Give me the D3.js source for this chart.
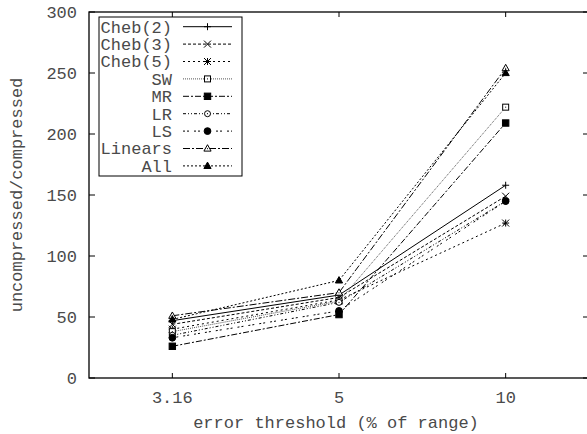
<!DOCTYPE html>
<html>
<head>
<meta charset="utf-8">
<script src="https://cdn.jsdelivr.net/npm/d3@7"></script>
<style>
  html, body { margin: 0; padding: 0; background: #fff; }
  svg text { font-family: "Liberation Mono", "DejaVu Sans Mono", monospace; font-size: 17px; fill: #4a4a4a; }
</style>
</head>
<body>
<svg id="chart" width="587" height="434"></svg>
<script>
// Error thresholds (categorical x positions)
const thresholds = ["3.16", "5", "10"];
const yTicks = [0, 50, 100, 150, 200, 250, 300];

// Compression ratio per method, one value per threshold
const cheb2   = [47, 68, 158];
const cheb3   = [44, 66, 149];
const cheb5   = [40, 64, 127];
const sw      = [38, 63, 222];
const mr      = [26, 52, 209];
const lr      = [35, 62, 145];
const ls      = [33, 55, 145];
const linears = [51, 70, 254];
const all     = [48, 80, 250];

const seriesNames = ["Cheb(2)", "Cheb(3)", "Cheb(5)", "SW", "MR", "LR", "LS", "Linears", "All"];
const seriesValues = [cheb2, cheb3, cheb5, sw, mr, lr, ls, linears, all];

// Drawing styles per series
const styles = [
  { dash: null,              marker: "plus",     stroke: "#000" },
  { dash: "3,2",             marker: "cross",    stroke: "#000" },
  { dash: "2,3",             marker: "star",     stroke: "#000" },
  { dash: "1,1",             marker: "squareO",  stroke: "#555" },
  { dash: "6,2,2,2",         marker: "squareF",  stroke: "#000" },
  { dash: "3,2,1,2,1,2",     marker: "circleO",  stroke: "#000" },
  { dash: "2,2,2,5",         marker: "circleF",  stroke: "#000" },
  { dash: "7,2,2,2",         marker: "triO",     stroke: "#000" },
  { dash: "2,2",             marker: "triF",     stroke: "#000" }
];

const svg = d3.select("#chart");
const plotL = 89, plotR = 589, plotT = 12, plotB = 378;

const x = d3.scaleLinear().domain([-0.5, thresholds.length - 0.5]).range([plotL, plotR]);
const y = d3.scaleLinear().domain([0, 300]).range([plotB, plotT]);

// Frame
svg.append("rect")
  .attr("x", plotL).attr("y", plotT)
  .attr("width", plotR - plotL).attr("height", plotB - plotT)
  .attr("fill", "none").attr("stroke", "#000").attr("stroke-width", 1.3);

// Inward ticks on all four sides
const tickLen = 6;
const tg = svg.append("g").attr("stroke", "#000").attr("stroke-width", 1);
yTicks.forEach(v => {
  tg.append("line").attr("x1", plotL).attr("x2", plotL + tickLen).attr("y1", y(v)).attr("y2", y(v));
  tg.append("line").attr("x1", plotR).attr("x2", plotR - tickLen).attr("y1", y(v)).attr("y2", y(v));
});
thresholds.forEach((t, i) => {
  tg.append("line").attr("x1", x(i)).attr("x2", x(i)).attr("y1", plotB).attr("y2", plotB - tickLen + 1);
  tg.append("line").attr("x1", x(i)).attr("x2", x(i)).attr("y1", plotT).attr("y2", plotT + tickLen - 1);
});

// Tick labels
svg.append("g").selectAll("text").data(yTicks).join("text")
  .attr("x", 77).attr("y", d => y(d)).attr("dy", "0.35em")
  .attr("text-anchor", "end").text(d => d);
svg.append("g").selectAll("text").data(thresholds).join("text")
  .attr("x", (d, i) => x(i)).attr("y", 403)
  .attr("text-anchor", "middle").text(d => d);

// Axis titles
svg.append("text").attr("x", 336).attr("y", 428)
  .attr("text-anchor", "middle").text("error threshold (% of range)");
svg.append("text")
  .attr("transform", `translate(22,${(plotT + plotB) / 2}) rotate(-90)`)
  .attr("text-anchor", "middle").text("uncompressed/compressed");

// Marker drawing
function drawMarker(g, type, cx, cy) {
  const s = 3.5;
  const p = g.append("g").attr("transform", `translate(${cx},${cy})`).attr("stroke", "#000").attr("stroke-width", 1);
  switch (type) {
    case "plus":
      p.append("path").attr("d", `M${-s},0H${s}M0,${-s}V${s}`);
      break;
    case "cross":
      p.append("path").attr("d", `M${-s},${-s}L${s},${s}M${-s},${s}L${s},${-s}`);
      break;
    case "star":
      p.append("path").attr("d", `M${-s},0H${s}M0,${-s}V${s}M${-s},${-s}L${s},${s}M${-s},${s}L${s},${-s}`);
      break;
    case "squareO":
      p.append("rect").attr("x", -3).attr("y", -3).attr("width", 6).attr("height", 6).attr("fill", "#fff");
      p.append("rect").attr("x", -0.5).attr("y", -0.5).attr("width", 1).attr("height", 1).attr("fill", "#000").attr("stroke", "none");
      break;
    case "squareF":
      p.append("rect").attr("x", -3.2).attr("y", -3.2).attr("width", 6.4).attr("height", 6.4).attr("fill", "#000");
      break;
    case "circleO":
      p.append("circle").attr("r", 3).attr("fill", "#fff");
      p.append("circle").attr("r", 0.6).attr("fill", "#000").attr("stroke", "none");
      break;
    case "circleF":
      p.append("circle").attr("r", 3.4).attr("fill", "#000");
      break;
    case "triO":
      p.append("path").attr("d", "M0,-3.8L3.6,2.6H-3.6Z").attr("fill", "#fff");
      p.append("rect").attr("x", -0.5).attr("y", -0.3).attr("width", 1).attr("height", 1).attr("fill", "#000").attr("stroke", "none");
      break;
    case "triF":
      p.append("path").attr("d", "M0,-3.8L3.6,2.6H-3.6Z").attr("fill", "#000");
      break;
  }
}

// Series lines and markers
const line = d3.line().x((d, i) => x(i)).y(d => y(d));
const plot = svg.append("g");
seriesValues.forEach((vals, k) => {
  const st = styles[k];
  plot.append("path").datum(vals)
    .attr("d", line).attr("fill", "none")
    .attr("stroke", st.stroke).attr("stroke-width", 1)
    .attr("stroke-dasharray", st.dash);
});
seriesValues.forEach((vals, k) => {
  vals.forEach((v, i) => drawMarker(plot, styles[k].marker, x(i), y(v)));
});

// Legend
const lgX = 99, lgY = 17, lgW = 143, lgH = 159, rowH = 17.4;
const legend = svg.append("g");
legend.append("rect").attr("x", lgX).attr("y", lgY).attr("width", lgW).attr("height", lgH)
  .attr("fill", "#fff").attr("stroke", "#000").attr("stroke-width", 1);
seriesNames.forEach((name, k) => {
  const cy = 26.7 + k * rowH;
  legend.append("text").attr("x", 172).attr("y", cy).attr("dy", "0.35em")
    .attr("text-anchor", "end").text(name);
  legend.append("line").attr("x1", 183).attr("x2", 232).attr("y1", cy).attr("y2", cy)
    .attr("stroke", styles[k].stroke).attr("stroke-width", 1)
    .attr("stroke-dasharray", styles[k].dash);
  drawMarker(legend, styles[k].marker, 207.5, cy);
});
</script>
</body>
</html>
